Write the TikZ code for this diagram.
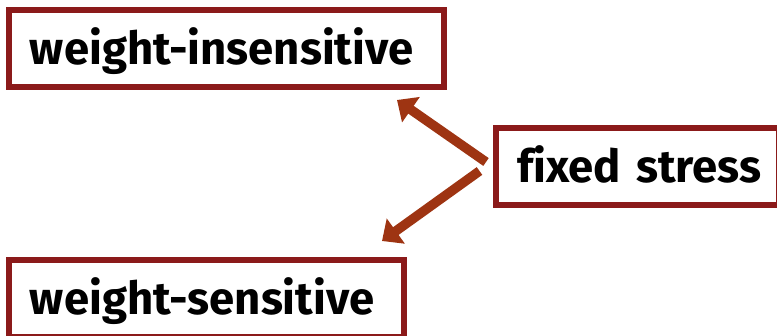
\documentclass[tikz,border=0pt]{standalone}
\usepackage{fontspec}
\setmainfont{Fira Sans}[Ligatures={NoCommon}]
\usetikzlibrary{arrows.meta}
\definecolor{boxred}{RGB}{139,26,26}
\definecolor{arrred}{RGB}{158,52,18}
\newcommand\myboxfont{\fontsize{45.5}{54}\selectfont\bfseries}
\begin{document}
\begin{tikzpicture}[x=1pt,y=-1pt,
  box/.style={draw=boxred, line width=6pt, fill=white, outer sep=0pt,
    inner xsep=21pt, inner ysep=0pt, text height=38.5pt, text depth=5.5pt,
    minimum height=77pt, align=left, anchor=north west,
    font=\myboxfont},
  arr/.style={draw=arrred, line width=9.5pt, -{Triangle[length=17pt,width=30pt]}}]
\useasboundingbox (0,0) rectangle (777,336);
\clip (0,0) rectangle (777,336);
\node[box, text width=393pt] (wi) at (9,10) {\mbox{weight-insensitive}};
\node[box, text width=241pt] (fs) at (496,128) {\mbox{fixed stress}};
\node[box, text width=353pt] (ws) at (9,260) {\mbox{weight-sensitive}};
\draw[arr] ([shift={(-10,-4.5)}]fs.west) -- ([shift={(-47,13)}]wi.south east);
\draw[arr] ([shift={(-16.5,4.5)}]fs.west) -- ([shift={(-22,-19)}]ws.north east);
\end{tikzpicture}
\end{document}
